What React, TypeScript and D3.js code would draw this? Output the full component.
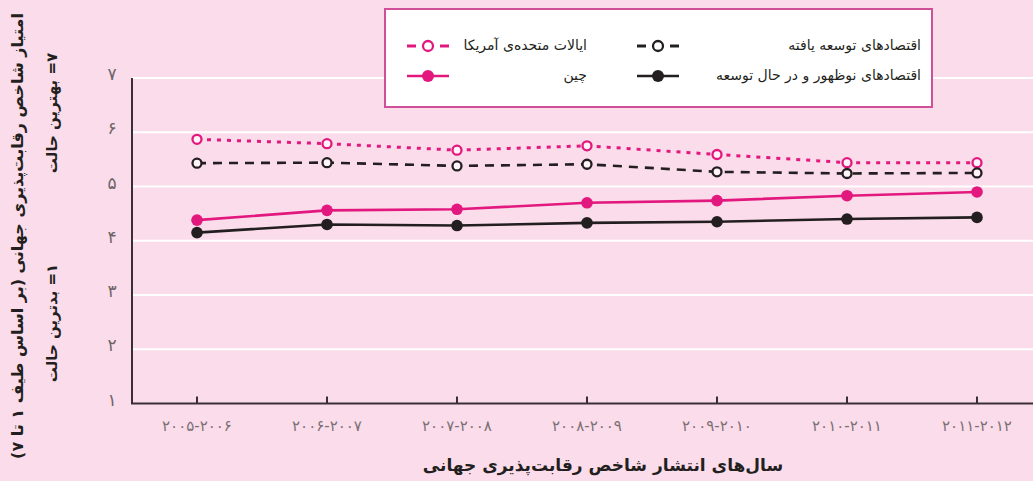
import * as d3 from "d3"

const years = [
  "۲۰۰۵-۲۰۰۶",
  "۲۰۰۶-۲۰۰۷",
  "۲۰۰۷-۲۰۰۸",
  "۲۰۰۸-۲۰۰۹",
  "۲۰۰۹-۲۰۱۰",
  "۲۰۱۰-۲۰۱۱",
  "۲۰۱۱-۲۰۱۲",
]
const usa = [5.87, 5.79, 5.67, 5.75, 5.59, 5.44, 5.44]
const developed = [5.43, 5.44, 5.38, 5.41, 5.27, 5.24, 5.25]
const china = [4.38, 4.56, 4.58, 4.7, 4.74, 4.83, 4.9]
const emerging = [4.15, 4.3, 4.28, 4.33, 4.35, 4.4, 4.43]

const yTicks = [1, 2, 3, 4, 5, 6, 7]
const yTickLabels = ["۱", "۲", "۳", "۴", "۵", "۶", "۷"]

const PINK = "#e2187e"
const BLACK = "#231f20"
const BG = "#fbdcea"
const FONT = "'DejaVu Sans', sans-serif"

interface Series {
  name: string
  values: number[]
  color: string
  dash: string | null
  open: boolean
}

const series: Series[] = [
  { name: "ایالات متحده‌ی آمریکا", values: usa, color: PINK, dash: "4 6", open: true },
  { name: "اقتصادهای توسعه یافته", values: developed, color: BLACK, dash: "9 7", open: true },
  { name: "چین", values: china, color: PINK, dash: null, open: false },
  { name: "اقتصادهای نوظهور و در حال توسعه", values: emerging, color: BLACK, dash: null, open: false },
]

const W = 1033
const H = 481
const left = 132
const bottom = 403.5

export default function App() {
  const x = d3.scalePoint<string>().domain(years).range([197, 977])
  const y = d3.scaleLinear().domain([1, 7]).range([bottom, 78])

  const line = d3
    .line<number>()
    .x((_, i) => x(years[i]) as number)
    .y((d) => y(d))

  // legend slots: [symbol center x, text right x, row y]
  const legendPos = [
    [428, 587, 46],
    [658, 921, 46],
    [428, 587, 76],
    [658, 921, 76],
  ]

  return (
    <div style={{ position: "fixed", left: 0, top: 0, width: W, height: H, background: BG }}>
      <svg width={W} height={H} style={{ display: "block" }} fontFamily={FONT}>
        <rect width={W} height={H} fill={BG} />

        {/* gridlines */}
        {yTicks.slice(1).map((t) => (
          <line key={t} x1={left} x2={W} y1={y(t)} y2={y(t)} stroke="#fff" strokeWidth={2} />
        ))}

        {/* y tick labels */}
        {yTicks.map((t, i) => (
          <text key={t} x={112} y={y(t) - 3} textAnchor="middle" dominantBaseline="middle" fontSize={17} fill="#6e6468">
            {yTickLabels[i]}
          </text>
        ))}

        {/* axes */}
        <line x1={left} x2={left} y1={y(7)} y2={bottom} stroke="#3b2f36" strokeWidth={2} />
        <line x1={left - 1} x2={W} y1={bottom} y2={bottom} stroke="#3b2f36" strokeWidth={2} />
        {years.map((yr) => (
          <line key={yr} x1={x(yr)} x2={x(yr)} y1={bottom} y2={bottom - 7} stroke="#3b2f36" strokeWidth={2} />
        ))}
        {years.map((yr) => (
          <text key={yr} x={x(yr)} y={426} textAnchor="middle" dominantBaseline="middle" fontSize={15} fill="#7a7074">
            {yr}
          </text>
        ))}

        {/* series */}
        {series.map((s) => (
          <g key={s.name}>
            <path
              d={line(s.values) || ""}
              fill="none"
              stroke={s.color}
              strokeWidth={s.dash ? (s.color === PINK ? 3 : 2.6) : 2.6}
              strokeDasharray={s.dash || undefined}
            />
            {s.values.map((v, i) => (
              <circle
                key={i}
                cx={x(years[i])}
                cy={y(v)}
                r={s.open ? 4.5 : 5.8}
                fill={s.open ? "#fff4f9" : s.color}
                stroke={s.color}
                strokeWidth={s.open ? 2.3 : 0}
              />
            ))}
          </g>
        ))}

        {/* legend */}
        <rect x={385} y={9} width={547} height={98} fill="#fff" stroke="#cf4f98" strokeWidth={2} />
        {series.map((s, i) => {
          const [cx, tx, ty] = legendPos[i]
          return (
            <g key={s.name}>
              {s.open ? (
                <>
                  <line x1={cx - 21} x2={cx - 12} y1={ty} y2={ty} stroke={s.color} strokeWidth={3} />
                  <line x1={cx + 12} x2={cx + 21} y1={ty} y2={ty} stroke={s.color} strokeWidth={3} />
                  <circle cx={cx} cy={ty} r={5} fill="#fff" stroke={s.color} strokeWidth={2.3} />
                </>
              ) : (
                <>
                  <line x1={cx - 21} x2={cx + 21} y1={ty} y2={ty} stroke={s.color} strokeWidth={2.6} />
                  <circle cx={cx} cy={ty} r={6} fill={s.color} />
                </>
              )}
              <text x={tx} y={ty} direction="rtl" textAnchor="start" dominantBaseline="middle" fontSize={14} fill="#231f20">
                {s.name}
              </text>
            </g>
          )
        })}

        {/* y axis title */}
        <g transform="translate(18,236) rotate(-90)">
          <text direction="rtl" textAnchor="middle" dominantBaseline="middle" fontSize={16} fontWeight="bold" fill="#231f20">
            امتیاز شاخص رقابت‌پذیری جهانی (بر اساس طیف ۱ تا ۷)
          </text>
        </g>
        <g transform="translate(52,113) rotate(-90)">
          <text direction="rtl" textAnchor="middle" dominantBaseline="middle" fontSize={15} fontWeight="bold" fill="#231f20">
            ۷= بهترین حالت
          </text>
        </g>
        <g transform="translate(52,323) rotate(-90)">
          <text direction="rtl" textAnchor="middle" dominantBaseline="middle" fontSize={15} fontWeight="bold" fill="#231f20">
            ۱= بدترین حالت
          </text>
        </g>

        {/* x axis title */}
        <text x={603} y={466} direction="rtl" textAnchor="middle" dominantBaseline="middle" fontSize={17} fontWeight="bold" fill="#231f20">
          سال‌های انتشار شاخص رقابت‌پذیری جهانی
        </text>
      </svg>
    </div>
  )
}
